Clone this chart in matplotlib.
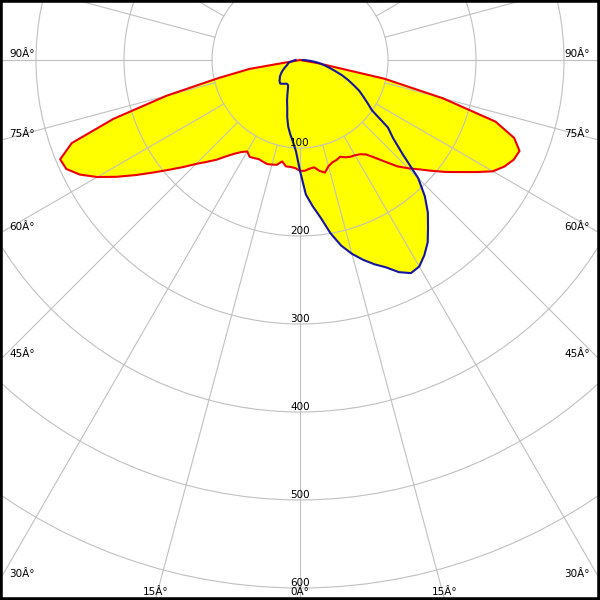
import numpy as np
import matplotlib
matplotlib.use('Agg')
from matplotlib import pyplot as plt
from matplotlib.patches import Circle

# gamma angles (deg from nadir), 2.5 deg steps
gamma = np.arange(0, 90.1, 2.5)

# C-plane 0/180 (red) - left and right halves, cd
red_left = [126, 123, 122, 122, 117, 122, 123, 124, 123, 122, 123, 124,
            120, 124, 130, 138, 148, 157, 167, 180, 194, 210, 228, 247,
            266, 282, 293, 295, 276, 222, 157, 95, 58, 0, 0, 0, 0]
red_right = [126, 126, 124, 123, 128, 131, 125, 122, 121, 119, 122, 124,
             125, 127, 131, 140, 151, 164, 174, 184, 196, 209, 222, 237,
             253, 262, 268, 270, 259, 233, 168, 98, 20, 0, 0, 0, 0]

# C-plane 90/270 (blue)
blue_left = [126, 104, 93, 85, 77, 67, 56, 49, 42, 36, 32, 31,
             31, 32, 33, 34, 35, 34, 33, 31, 30, 28, 26, 24,
             22, 20, 18, 16.5, 15, 14.5, 14, 12, 10, 8, 7, 6, 5]
blue_right = [126, 153, 167, 181, 200, 216, 228, 238, 247, 255, 266, 273,
              271, 263, 253, 239, 226, 210, 190, 158, 138, 126, 100, 91,
              83, 76, 67, 59, 51, 42, 35, 29, 24, 18, 12, 7, 3]

ring_values = [100, 200, 300, 400, 500, 600]
angle_ticks = [0, 15, 30, 45, 60, 75, 90]

grid_c = '#c0c0c0'
px = 72 / 100  # points per pixel

fig = plt.figure(figsize=(6, 6), dpi=100)
ax = fig.add_axes([0, 0, 1, 1])
scale = 0.88  # pixels per cd
xmax = 300 / scale
ymin = -540 / scale
ax.set_xlim(-xmax, xmax)
ax.set_ylim(ymin, 60 / scale)
ax.set_xticks([])
ax.set_yticks([])
for s in ax.spines.values():
    s.set_linewidth(4)
    s.set_color('black')


def outline(left, right):
    g = np.radians(gamma)
    l = np.asarray(left, float)
    r = np.asarray(right, float)
    x = np.concatenate([(-l * np.sin(g))[::-1], r * np.sin(g)])
    y = np.concatenate([(-l * np.cos(g))[::-1], -r * np.cos(g)])
    return x, y


rx, ry = outline(red_left, red_right)
bx, by = outline(blue_left, blue_right)
ax.fill(rx, ry, color='#ffff00', lw=0, zorder=1)
ax.fill(bx, by, color='#ffff00', lw=0, zorder=1)

# grid
for r in ring_values:
    ax.add_patch(Circle((0, 0), r, fill=False, ec=grid_c, lw=0.8, zorder=2))
for a in range(0, 360, 15):
    t = np.radians(a)
    ax.plot([100 * np.sin(t), 1000 * np.sin(t)],
            [-100 * np.cos(t), -1000 * np.cos(t)],
            color=grid_c, lw=0.8, zorder=2)

ax.plot(rx, ry, color='#ee0000', lw=1.5, zorder=3)
ax.plot(bx, by, color='#1414a0', lw=1.5, zorder=3)

# ring labels
for r in ring_values:
    ax.annotate(str(r), (0, -r), xytext=(0, 2 * px), textcoords='offset points',
                ha='center', va='baseline', fontsize=7.5, zorder=4)

# angle labels at frame edge
for g in angle_ticks:
    for side in ([1] if g == 0 else [-1, 1]):
        t = np.radians(g)
        sx, sy = side * np.sin(t), -np.cos(t)
        tx = xmax / abs(sx) if sx != 0 else np.inf
        ty = ymin / sy
        if tx < ty:
            pt = (tx * sx, tx * sy)
            off = (9 * px, 3 * px) if side < 0 else (-10 * px, 3 * px)
            ha = 'left' if side < 0 else 'right'
        else:
            pt = (ty * sx, ty * sy)
            off = (0, 5 * px)
            ha = 'center'
        ax.annotate('%dÂ°' % g, pt, xytext=off, textcoords='offset points',
                    ha=ha, va='baseline', fontsize=7.5, zorder=4)

fig.savefig('out.png', dpi=100)
